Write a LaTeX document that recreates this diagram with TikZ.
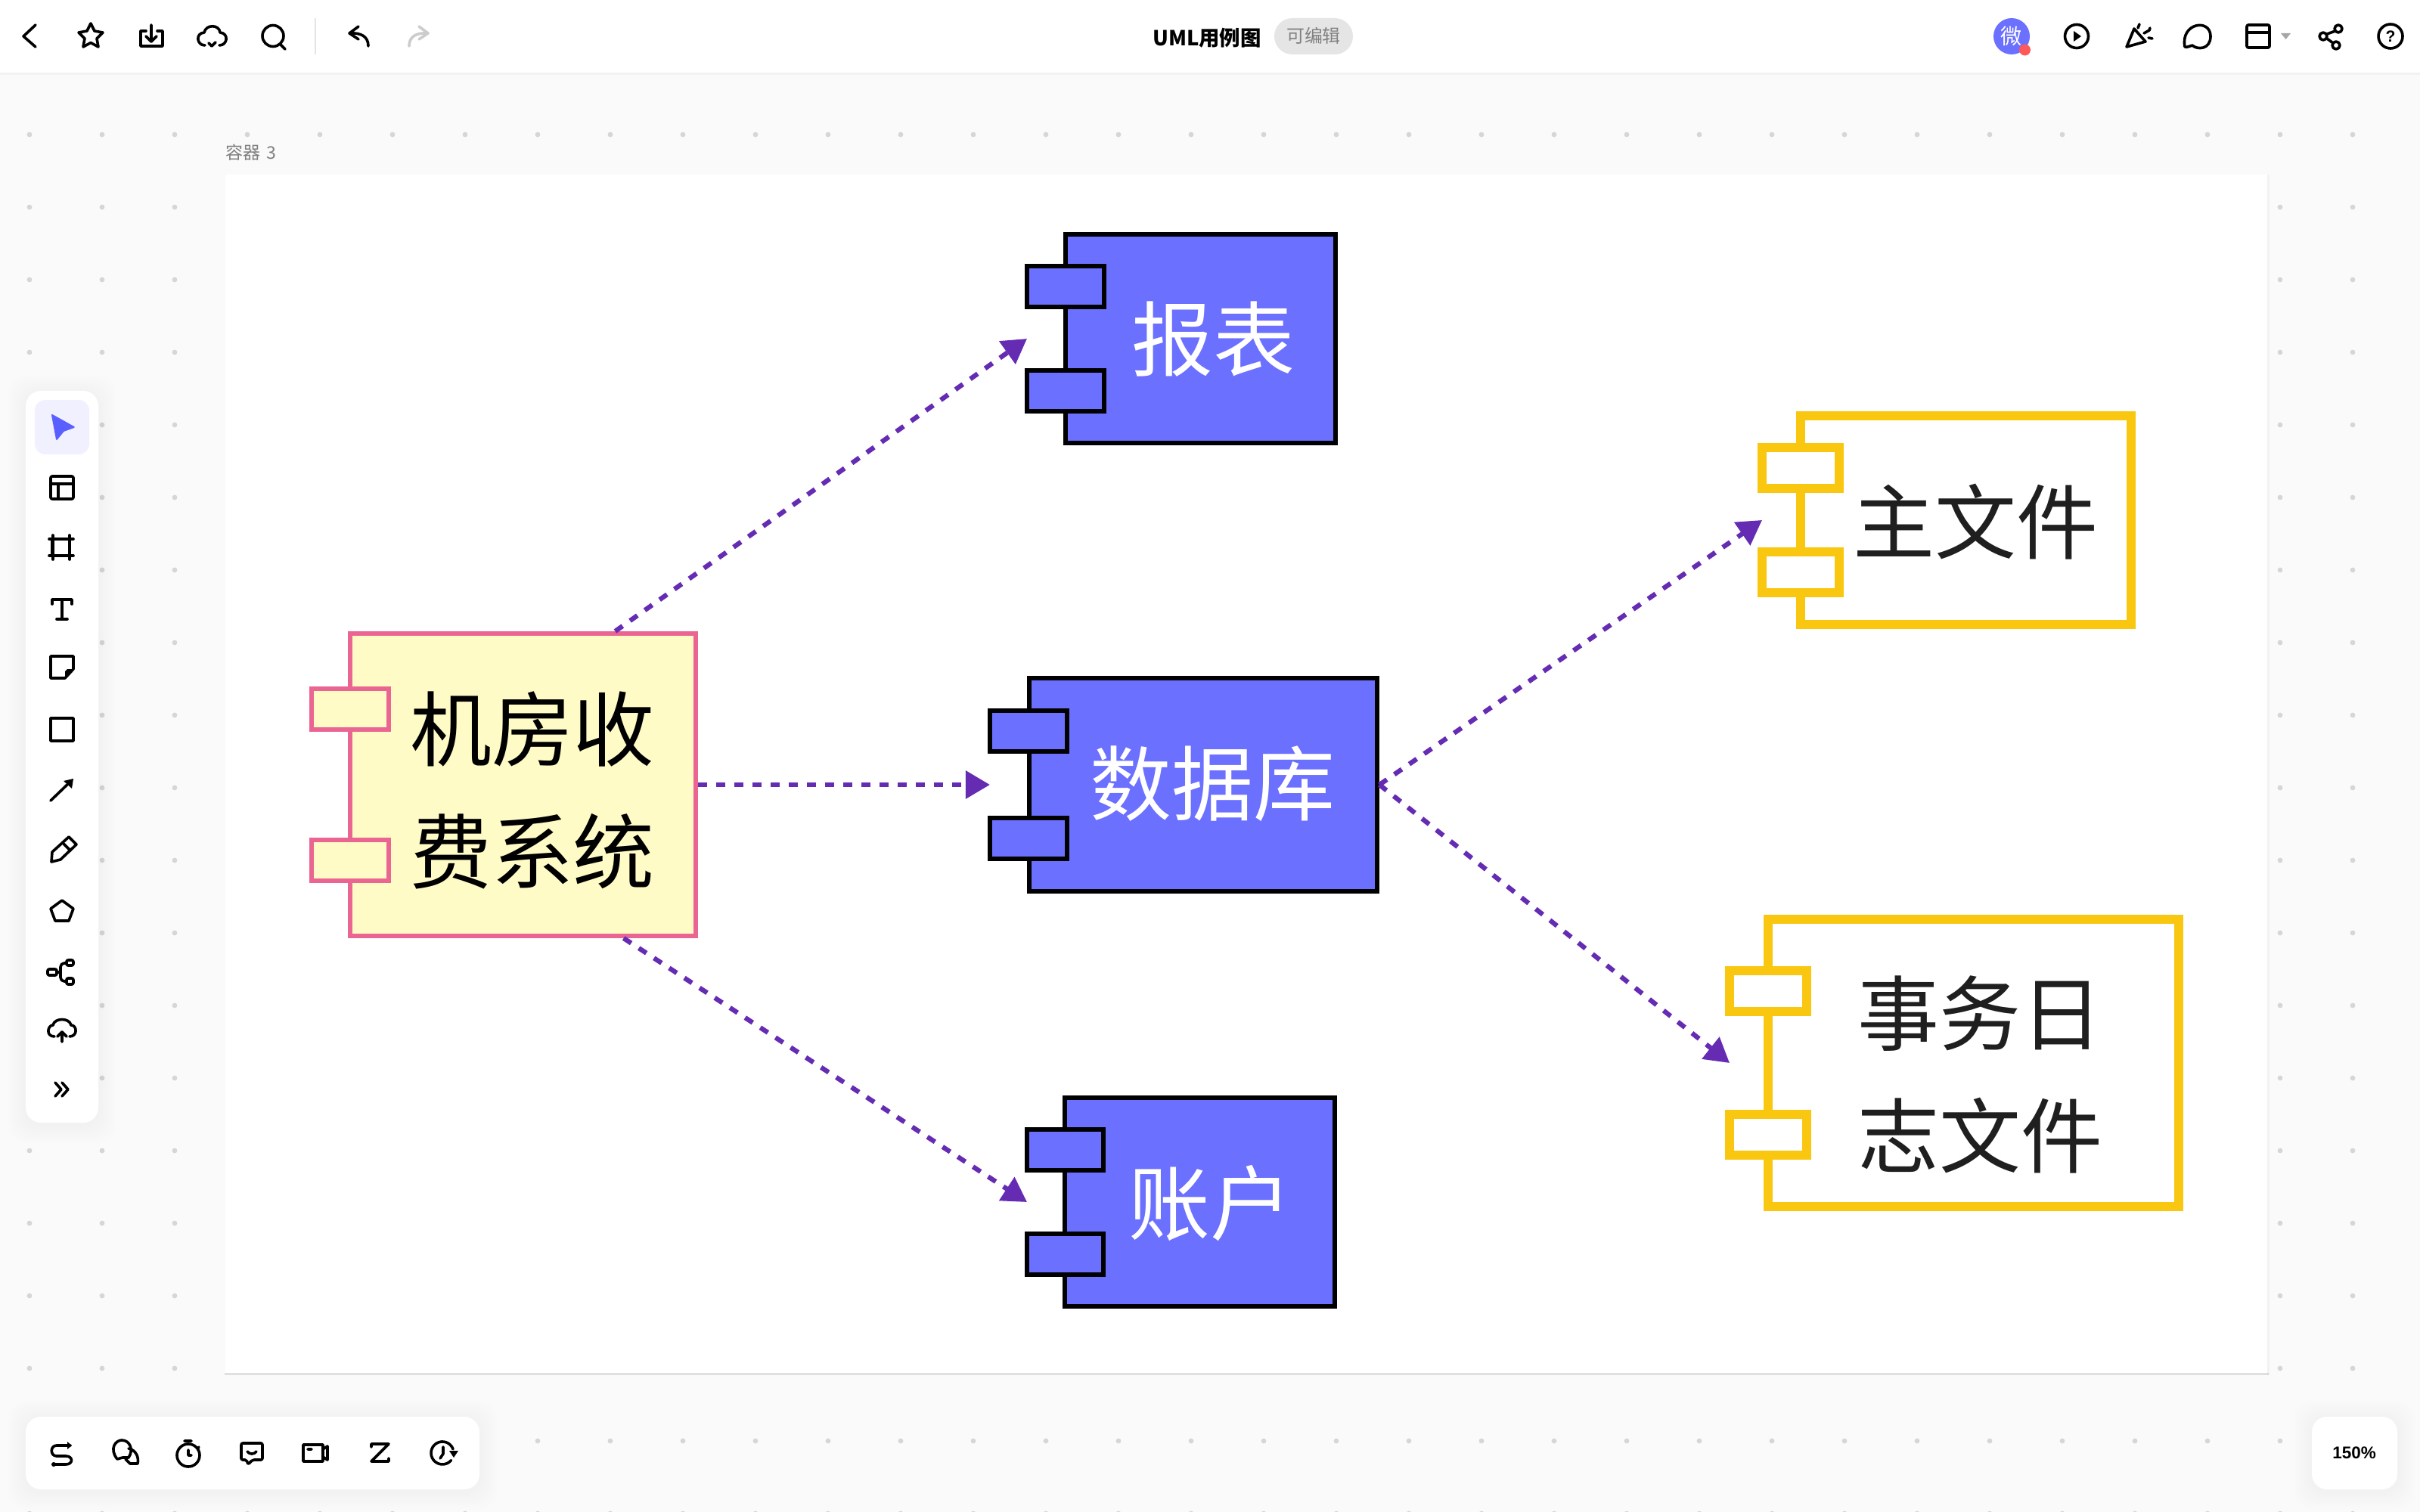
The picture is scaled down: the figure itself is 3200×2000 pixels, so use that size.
\documentclass[tikz,border=0pt]{standalone}
\usepackage{fontspec}
\setmainfont{Liberation Sans}
\newfontfamily\cjk{Noto Sans CJK SC}
\usetikzlibrary{arrows.meta,calc,shapes.geometric}
\def\pxu{0.7113pt}
\definecolor{bgc}{HTML}{FAFAFA}
\definecolor{dotc}{HTML}{D6D6D6}
\definecolor{blueF}{HTML}{6B70FF}
\definecolor{yelF}{HTML}{FFFBC7}
\definecolor{pinkL}{HTML}{EB6593}
\definecolor{goldL}{HTML}{FAC710}
\definecolor{purp}{HTML}{652CB3}
\definecolor{greyT}{HTML}{808080}
\definecolor{sel}{HTML}{F0F0FF}
\definecolor{cursorc}{HTML}{5A60FF}
\tikzset{
  x=\pxu,y=-\pxu,
  bx/.style={rectangle,inner sep=0pt,outer sep=0pt},
  sysbox/.style={bx,draw=pinkL,fill=yelF,line width=6*\pxu},
  dbbox/.style={bx,draw=black,fill=blueF,line width=6*\pxu},
  filebox/.style={bx,draw=goldL,fill=white,line width=12*\pxu},
  hull/.style={bx,draw=none,fill=none},
  lab/.style={font=\cjk\fontsize{76.8}{115.2}\selectfont,inner sep=0pt,align=center},
  dep/.style={draw=purp,line width=6.3*\pxu,dash pattern=on 12*\pxu off 12*\pxu,-{Triangle[length=22.8pt,width=25.6pt]}},
  icon/.style={draw=black,line width=3.6*\pxu,line cap=round,line join=round},
  panel/.style={fill=white,rounded corners=20*\pxu},
}
\newcommand{\softshadow}[4]{%
  \foreach \e in {3,6,...,24}{\fill[black,opacity=0.005,rounded corners=24*\pxu] (#1-\e,#2-\e+3) rectangle (#3+\e,#4+\e+3);}%
}
\begin{document}
\begin{tikzpicture}
\useasboundingbox (0,0) rectangle (3200,2000);
\fill[bgc] (0,0) rectangle (3200,2000);
% grid of dots
\foreach \i in {0,...,33}{\foreach \j in {0,...,19}{\fill[dotc] ({39+96*\i},{178+96*\j}) circle (3.4);}}
% canvas
\fill[black,opacity=0.03] (2998,231) rectangle (3001,1819);
\fill[black,opacity=0.10] (297,1816) rectangle (3000,1819);
\fill[white] (298,231) rectangle (2998,1816);
\node[font=\cjk\fontsize{16.4}{18}\selectfont,text=greyT,anchor=west,inner sep=0pt] (clabel) at (298,202) {容器\,\,3};
% top bar
\fill[black,opacity=0.03] (0,96) rectangle (3200,99);
\fill[white] (0,0) rectangle (3200,96);
\draw[icon] (47,33) -- (31,48) -- (47,62);
\draw[icon] (120,31) -- (125,41) -- (136,43) -- (128,51) -- (130,62) -- (120,56.5) -- (110,62) -- (112,51) -- (104,43) -- (115,41) -- cycle;
\draw[icon] (193,41) -- (186,41) -- (186,61) -- (215,61) -- (215,41) -- (208,41);
\draw[icon] (200,33) -- (200,55) (193,48) -- (200,55) -- (207,48);
\draw[icon] (271,60) .. controls (260,60) and (258,44) .. (270,43) .. controls (272,32) and (290,32) .. (291,43) .. controls (303,44) and (301,60) .. (290,60);
\draw[icon] (276,57) -- (280,61) -- (285,56);
\draw[icon] (361,47.5) circle (14) (370,58) -- (377,65);
\draw[line width=2*\pxu,draw=black!10] (417,24) -- (417,72);
\draw[icon] (487,61) .. controls (487,48) and (477,43) .. (462,44) (474,35) -- (462,44) -- (474,52);
\draw[icon,draw=black!20] (541,61) .. controls (541,48) and (551,43) .. (566,44) (554,35) -- (566,44) -- (554,52);
\node[font=\bfseries\cjk\fontsize{19.5}{22}\selectfont,inner sep=0pt] (title) at (1596,50) {UML用例图};
\fill[black!10,rounded corners=24*\pxu] (1685,24) rectangle (1789,72);
\node[font=\cjk\fontsize{17}{20}\selectfont,text=greyT,inner sep=0pt] (editable) at (1737,47) {可编辑};
\fill[blueF] (2660,48) circle (24);
\node[font=\cjk\fontsize{20}{22}\selectfont,text=white,inner sep=0pt] (avatar) at (2660,48) {微};
\fill[red!65!white] (2677.5,66) circle (7.5);
\draw[icon] (2746,48) circle (15.5);
\fill[black] (2742,41) -- (2752,48) -- (2742,55) -- cycle;
\draw[icon] (2812,62) -- (2822,38) -- (2837,55) -- cycle;
\draw[icon] (2827,37) -- (2829,32) (2835,44) -- (2842,40) -- (2843,37) (2841,50) -- (2846,51);
\draw[icon] (2889,62) .. controls (2883,30) and (2923,24) .. (2923,48) .. controls (2923,66) and (2905,66) .. (2899,60) .. controls (2895,61) and (2892,63) .. (2889,62) -- cycle;
\draw[icon,rounded corners=2*\pxu] (2971,33) rectangle (3001,63);
\draw[icon] (2971,43) -- (3001,43);
\fill[black!35] (3016,44) -- (3029,44) -- (3022.5,52) -- cycle;
\draw[icon] (3092,38) circle (5) (3072,48) circle (5) (3089,60) circle (5);
\draw[icon] (3077,45) -- (3088,41) (3077,51) -- (3085,57);
\draw[icon] (3161,48) circle (16);
\node[font=\bfseries\fontsize{15}{17}\selectfont,inner sep=0pt] (help) at (3161,48) {?};
% left toolbar
\softshadow{34}{517}{130}{1485}
\fill[panel] (34,517) rectangle (130,1485);
\fill[sel,rounded corners=14*\pxu] (46,529) rectangle (118,601);
\fill[cursorc,draw=cursorc,line width=2*\pxu,line join=round] (69,549) -- (97.7,565) -- (84,570) -- (75,581) -- cycle;
\draw[icon,rounded corners=2*\pxu] (67,630) rectangle (97,660);
\draw[icon] (67,640) -- (97,640) (77,640) -- (77,660);
\draw[icon] (69,713) rectangle (92,735);
\draw[icon] (65,713) -- (97,713) (65,735) -- (97,735) (70,708) -- (70,740) (92,708) -- (92,740);
\draw[icon] (69,799) -- (69,793) -- (95,793) -- (95,799) (82,793) -- (82,819) (75,819) -- (89,819);
\draw[icon] (67,868) -- (97,868) -- (97,885) -- (86,897) -- (67,897) -- cycle;
\fill[black] (97,885) -- (86,897) -- (86,888) -- (89,885) -- cycle;
\draw[icon] (67,950) rectangle (97,980);
\draw[icon] (67,1059) -- (94,1033);
\fill[black] (97,1030) -- (95,1043) -- (84,1033) -- cycle;
\draw[icon] (91,1107) -- (101,1117) -- (80,1137) -- (68,1140) -- (69,1127) -- cycle;
\draw[icon] (83,1115) -- (93,1125);
\draw[icon] (82,1191) -- (97,1202) -- (91,1218) -- (73,1218) -- (67,1202) -- cycle;
\draw[icon,rounded corners=2*\pxu] (63,1282) rectangle (75,1290) (88,1270) rectangle (97,1277) (88,1294) rectangle (97,1302);
\draw[icon,rounded corners=5*\pxu] (75,1286) -- (80,1286) (88,1274) -- (80,1274) -- (80,1298) -- (88,1298);
\draw[icon] (72,1371) .. controls (60,1371) and (63,1356) .. (70,1356) .. controls (72,1346) and (92,1346) .. (94,1356) .. controls (102,1356) and (103,1371) .. (92,1371);
\draw[icon] (82,1378) -- (82,1365) (76,1371) -- (82,1365) -- (88,1371);
\draw[icon] (73,1432) -- (81,1441) -- (73,1450) (82,1432) -- (90,1441) -- (82,1450);
% bottom panel
\softshadow{34}{1874}{634}{1970}
\fill[panel] (34,1874) rectangle (634,1970);
\draw[icon] (93,1912) -- (75,1912) .. controls (66,1912) and (66,1926) .. (75,1926) -- (87,1926) .. controls (97,1926) and (97,1937) .. (87,1937) -- (71,1937);
\fill[black] (95,1912) -- (89,1907) -- (89,1917) -- cycle;
\fill[black] (71,1937) circle (3);
\draw[icon] (155,1930) .. controls (144,1916) and (153,1905) .. (161,1905) .. controls (172,1905) and (177,1918) .. (170,1928) -- (162,1928) -- cycle;
\draw[icon] (170,1916) .. controls (180,1918) and (184,1928) .. (182,1936) -- (172,1936) -- (166,1930);
\draw[icon] (249,1925) circle (15) (244,1906) -- (253,1906) (249,1918) -- (249,1925) -- (253,1925) (263,1914) -- (261,1917);
\draw[icon,rounded corners=2*\pxu] (319,1909) -- (347,1909) -- (347,1931) -- (334,1931) -- (328,1937) -- (326,1931) -- (319,1931) -- cycle;
\draw[icon] (327,1920) .. controls (330,1924) and (336,1924) .. (339,1920);
\draw[icon] (401,1911) rectangle (427,1933) (427,1917) -- (433,1913) -- (433,1931) -- (427,1927) (407,1917) -- (412,1917);
\draw[icon] (491,1914) -- (491,1910) -- (514,1910) -- (491,1933) -- (514,1933) -- (514,1929);
\draw[icon] (596.5,1931.6) arc[start angle=40,end angle=340,radius=15];
\fill[black] (594,1919) -- (606,1919) -- (600,1928) -- cycle;
\draw[icon] (586,1914) -- (586,1923) -- (582,1929);
% zoom panel
\softshadow{3057}{1874}{3170}{1970}
\fill[panel] (3057,1874) rectangle (3170,1970);
\node[font=\bfseries\fontsize{16}{18}\selectfont,inner sep=0pt] (zoomv) at (3113,1922) {150\%};

% ===== components =====
% system
\node[sysbox,minimum width=457*\pxu,minimum height=400*\pxu] (sys) at (691.5,1038) {};
\node[sysbox,minimum width=102*\pxu,minimum height=54*\pxu] (sysT1) at (463,938) {};
\node[sysbox,minimum width=102*\pxu,minimum height=54*\pxu] (sysT2) at (463,1138) {};
\node[hull,minimum width=514*\pxu,minimum height=406*\pxu] (sysH) at (666,1038) {};
\node[lab,text=black] (sysL) at (704,1045) {机房收\\费系统};
% report
\node[dbbox,minimum width=357*\pxu,minimum height=276*\pxu] (rep) at (1587.5,448) {};
\node[dbbox,minimum width=102*\pxu,minimum height=54*\pxu] (repT1) at (1409,379) {};
\node[dbbox,minimum width=102*\pxu,minimum height=54*\pxu] (repT2) at (1409,517) {};
\node[hull,minimum width=411*\pxu,minimum height=282*\pxu] (repH) at (1563.5,448) {};
\node[lab,text=white] (repL) at (1604,449) {报表};
% database
\node[dbbox,minimum width=460*\pxu,minimum height=282*\pxu] (db) at (1591,1038) {};
\node[dbbox,minimum width=102*\pxu,minimum height=54*\pxu] (dbT1) at (1360,967) {};
\node[dbbox,minimum width=102*\pxu,minimum height=54*\pxu] (dbT2) at (1360,1109) {};
\node[hull,minimum width=515*\pxu,minimum height=288*\pxu] (dbH) at (1566.5,1038) {};
\node[lab,text=white] (dbL) at (1603,1037) {数据库};
% account
\node[dbbox,minimum width=357*\pxu,minimum height=276*\pxu] (acc) at (1586.5,1590) {};
\node[dbbox,minimum width=101*\pxu,minimum height=54*\pxu] (accT1) at (1408.5,1521) {};
\node[dbbox,minimum width=101*\pxu,minimum height=54*\pxu] (accT2) at (1408.5,1659) {};
\node[hull,minimum width=410*\pxu,minimum height=282*\pxu] (accH) at (1563,1590) {};
\node[lab,text=white] (accL) at (1600,1592) {账户};
% main file
\node[filebox,minimum width=437*\pxu,minimum height=276*\pxu] (mainf) at (2599.5,688) {};
\node[filebox,minimum width=102*\pxu,minimum height=54*\pxu] (mainT1) at (2381,619) {};
\node[filebox,minimum width=102*\pxu,minimum height=54*\pxu] (mainT2) at (2381,757) {};
\node[hull,minimum width=494*\pxu,minimum height=288*\pxu] (mainH) at (2577,688) {};
\node[lab,text=black!88] (mainL) at (2612,690) {主文件};
% log file
\node[filebox,minimum width=543*\pxu,minimum height=380*\pxu] (logf) at (2609.5,1406) {};
\node[filebox,minimum width=102*\pxu,minimum height=54*\pxu] (logT1) at (2338,1311) {};
\node[filebox,minimum width=102*\pxu,minimum height=54*\pxu] (logT2) at (2338,1501) {};
\node[hull,minimum width=600*\pxu,minimum height=392*\pxu] (logH) at (2587,1406) {};
\node[lab,text=black!88] (logL) at (2618,1421) {事务日\\志文件};
% connectors
\draw[dep] (sysH.54.5) -- (repH.west);
\draw[dep] (sysH.east) -- (dbH.west);
\draw[dep] (sysH.-52.6) -- (accH.west);
\draw[dep] (dbH.east) -- (mainH.west);
\draw[dep] (dbH.east) -- (logH.west);
\end{tikzpicture}
\end{document}
